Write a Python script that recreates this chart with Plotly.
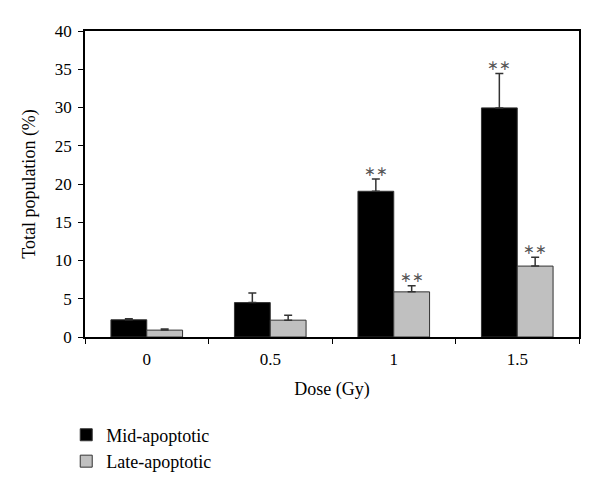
import plotly.graph_objects as go

doses = ["0", "0.5", "1", "1.5"]
mid_vals = [2.25, 4.5, 19.05, 29.95]
mid_err = [0.15, 1.25, 1.6, 4.5]
late_vals = [0.9, 2.2, 5.9, 9.27]
late_err = [0.15, 0.65, 0.8, 1.15]
mid_sig = ["", "", "∗∗", "∗∗"]
late_sig = ["", "", "∗∗", "∗∗"]

FONT = "Liberation Serif"

fig = go.Figure()
fig.add_trace(go.Bar(
    x=doses, y=mid_vals, name="Mid-apoptotic", offsetgroup="mid",
    marker=dict(color="black", line=dict(color="#333", width=1)),
    error_y=dict(type="data", array=mid_err, arrayminus=[0]*4, symmetric=False,
                 color="#333", thickness=1.5, width=4),
))
fig.add_trace(go.Bar(
    x=doses, y=late_vals, name="Late-apoptotic", offsetgroup="late",
    marker=dict(color="#c0c0c0", line=dict(color="#333", width=1)),
    error_y=dict(type="data", array=late_err, arrayminus=[0]*4, symmetric=False,
                 color="#333", thickness=1.5, width=4),
))
fig.add_trace(go.Scatter(
    x=doses, y=[v + e for v, e in zip(mid_vals, mid_err)], text=mid_sig,
    mode="text", textposition="top center", offsetgroup="mid",
    textfont=dict(family=FONT, size=14, color="#555"), showlegend=False,
    hoverinfo="skip",
))
fig.add_trace(go.Scatter(
    x=doses, y=[v + e for v, e in zip(late_vals, late_err)], text=late_sig,
    mode="text", textposition="top center", offsetgroup="late",
    textfont=dict(family=FONT, size=14, color="#555"), showlegend=False,
    hoverinfo="skip",
))

fig.update_layout(
    width=600, height=491,
    margin=dict(l=85, r=21, t=31, b=152),
    paper_bgcolor="white", plot_bgcolor="white",
    font=dict(family=FONT, size=17, color="black"),
    barmode="group", bargap=0.42, bargroupgap=0,
    scattermode="group", scattergap=0.42,
    showlegend=True,
    legend=dict(x=-0.038, y=-0.26, xanchor="left", yanchor="top",
                font=dict(family=FONT, size=18), tracegroupgap=0,
                itemwidth=30, bgcolor="rgba(0,0,0,0)"),
    xaxis=dict(
        title=dict(text="Dose (Gy)", font=dict(family=FONT, size=18), standoff=14),
        showline=True, linecolor="black", linewidth=1.5, mirror=True,
        ticks="outside", ticklen=5, tickcolor="black", tickson="boundaries",
        ticklabelstandoff=6,
        tickfont=dict(family=FONT, size=17), showgrid=False,
    ),
    yaxis=dict(
        title=dict(text="Total population (%)", font=dict(family=FONT, size=18), standoff=15),
        range=[0, 40], dtick=5,
        showline=True, linecolor="black", linewidth=1.5, mirror=True,
        ticks="outside", ticklen=5, tickcolor="black",
        ticklabelstandoff=3,
        tickfont=dict(family=FONT, size=17), showgrid=False, zeroline=False,
    ),
)

fig.write_html("out.html", config={"displayModeBar": False},
               post_script="document.body.style.margin='0';document.body.style.overflow='hidden';")
